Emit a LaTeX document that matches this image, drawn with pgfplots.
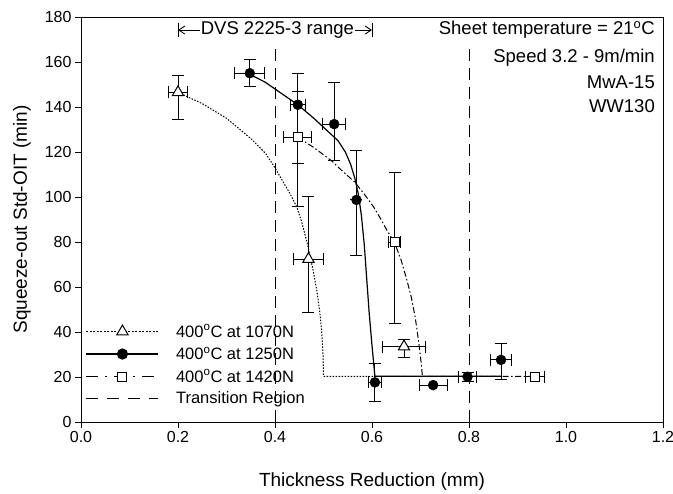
\documentclass[border=0pt]{standalone}
\usepackage{fontspec}
\setmainfont{Liberation Sans}
\usepackage{pgfplots}
\pgfplotsset{compat=1.18}
\usetikzlibrary{arrows.meta}
\begin{document}
\begin{tikzpicture}[font=\fontsize{16}{19}\selectfont]
\useasboundingbox (0,0) rectangle (673pt,494pt);
\begin{axis}[
  at={(81pt,72pt)}, anchor=south west,
  scale only axis, width=582pt, height=405pt,
  xmin=0, xmax=1.2, ymin=0, ymax=180,
  xtick={0,0.2,0.4,0.6,0.8,1.0,1.2}, ytick={0,20,...,180},
  xtick pos=left, ytick pos=left, tick align=outside,
  major tick length=6pt,
  tick style={line width=0.9pt, black},
  axis line style={line width=0.9pt},
  /pgf/number format/assume math mode=true,
  xticklabel style={/pgf/number format/.cd, fixed, fixed zerofill, precision=1},
  xlabel={Thickness Reduction (mm)},
  ylabel={Squeeze-out Std-OIT (min)},
  xlabel style={font=\fontsize{19}{22}\selectfont, at={(axis description cs:0.5,-0.148)}, anchor=center},
  ylabel style={font=\fontsize{19}{22}\selectfont, at={(axis description cs:-0.1014,0.5)}, anchor=center},
  legend style={at={(axis description cs:0.008,0.246)}, anchor=north west, draw=none, fill=none,
    font=\fontsize{16.5}{19}\selectfont, row sep=4.5pt, inner sep=0pt},
  legend cell align=left,
  legend image code/.code={\draw[mark repeat=2,mark phase=2,#1] plot coordinates {(0pt,0pt) (36pt,0pt) (72pt,0pt)};\path (87pt,0pt);},
  error bars/error bar style={line width=1pt, black, solid},
  error bars/error mark options={rotate=90, black, mark size=6pt, line width=1pt, solid},
]
% legend entries
\addlegendimage{black, line width=1pt, dash pattern=on 2pt off 1.5pt, mark=triangle*, mark size=6.5pt, mark options={fill=white, solid}}
\addlegendentry{400\textsuperscript{o}C at 1070N}
\addlegendimage{black, line width=1.2pt, mark=*, mark size=5pt, mark options={fill=black}}
\addlegendentry{400\textsuperscript{o}C at 1250N}
\addlegendimage{black, line width=1pt, dash pattern=on 12pt off 7pt on 2pt off 7pt, mark=square*, mark size=4.5pt, mark options={fill=white, solid}}
\addlegendentry{400\textsuperscript{o}C at 1420N}
\addlegendimage{black, line width=1pt, dash pattern=on 12pt off 9pt}
\addlegendentry{Transition Region}

% transition region lines
\addplot[black, line width=1pt, dash pattern=on 12pt off 7pt, forget plot] coordinates {(0.4,0) (0.4,166)};
\addplot[black, line width=1pt, dash pattern=on 12pt off 7pt, forget plot] coordinates {(0.8,0) (0.8,166)};

% fitted curves
\addplot[black, line width=1pt, dash pattern=on 1.5pt off 1.5pt, forget plot] coordinates {
 (0.2,146.5) (0.25,141.5) (0.3,135) (0.35,126) (0.38,119.5) (0.4,113) (0.42,105.5)
 (0.431,101.5) (0.445,95.5) (0.455,89) (0.468,78) (0.478,68) (0.486,58.7) (0.492,49.5)
 (0.496,41) (0.499,30) (0.5,20.3) (0.67,20.3)};
\addplot[black, line width=1.2pt, forget plot] coordinates {
 (0.348,154.5) (0.38,151) (0.41,146.5) (0.447,141) (0.48,135) (0.505,130) (0.53,125)
 (0.545,120) (0.556,114.5) (0.565,108) (0.572,101) (0.578,92) (0.584,79) (0.589,64)
 (0.594,49) (0.6,34) (0.606,20.3) (0.868,20.3)};
\addplot[black, line width=1pt, dash pattern=on 6pt off 2.5pt on 1.5pt off 2.5pt, forget plot] coordinates {
 (0.447,126.5) (0.48,122) (0.517,116) (0.534,112.5) (0.565,106.5) (0.585,101) (0.603,95.7)
 (0.616,91) (0.63,85.5) (0.647,79.5) (0.66,72) (0.672,63) (0.681,55.5) (0.689,46.7)
 (0.696,36) (0.701,27) (0.704,20.3) (0.936,20.3)};

% data with error bars
\addplot[black, only marks, mark=triangle*, mark size=6.5pt, mark options={fill=white, draw=black, line width=1pt}, forget plot,
  error bars/.cd, x dir=both, x explicit, y dir=both, y explicit] coordinates {
 (0.2,146.5) += (0.019,7.5) -= (0.019,12)
 (0.469,72.4) += (0.031,28) -= (0.031,23.7)
 (0.666,33.5) += (0.044,3) -= (0.044,5)
};
\addplot[black, only marks, mark=*, mark size=5pt, mark options={fill=black}, forget plot,
  error bars/.cd, x dir=both, x explicit, y dir=both, y explicit] coordinates {
 (0.348,155) += (0.031,6) -= (0.031,6)
 (0.447,141) += (0.015,14) -= (0.015,26)
 (0.522,132.4) += (0.024,18.6) -= (0.024,16.4)
 (0.568,98.7) += (0,21.9) -= (0,24.5)
 (0.606,17.6) += (0.014,8.2) -= (0.014,8.6)
 (0.726,16.4) += (0.029,0) -= (0.029,0)
 (0.797,20.1) += (0.018,2) -= (0.018,2)
 (0.866,27.6) += (0.022,7.1) -= (0.022,8.6)
};
\addplot[black, only marks, mark=square*, mark size=4.5pt, mark options={fill=white, draw=black, line width=1pt}, forget plot,
  error bars/.cd, x dir=both, x explicit, y dir=both, y explicit] coordinates {
 (0.447,126.5) += (0.029,20.3) -= (0.029,30.8)
 (0.647,79.9) += (0.012,31.1) -= (0.012,36.3)
 (0.936,20.1) += (0.019,0) -= (0.019,0)
};

% annotations
\node[font=\fontsize{18.5}{22}\selectfont, inner sep=1pt] (dvs) at (axis cs:0.405,174.2) {DVS 2225-3 range};
\draw[line width=0.9pt, -{Straight Barb[length=6pt,width=8pt]}] (dvs.west) -- (axis cs:0.2,174.2);
\draw[line width=0.9pt, -{Straight Barb[length=6pt,width=8pt]}] (dvs.east) -- (axis cs:0.6,174.2);
\draw[line width=0.9pt] (axis cs:0.2,171) -- (axis cs:0.2,177.4);
\draw[line width=0.9pt] (axis cs:0.6,171) -- (axis cs:0.6,177.4);
\node[anchor=east, inner sep=0pt, font=\fontsize{18.5}{22}\selectfont] at (axis cs:1.1835,174.2) {Sheet temperature = 21\textsuperscript{o}C};
\node[anchor=east, inner sep=0pt, font=\fontsize{18.5}{22}\selectfont] at (axis cs:1.1835,161.8) {Speed 3.2 - 9m/min};
\node[anchor=east, inner sep=0pt, font=\fontsize{18.5}{22}\selectfont] at (axis cs:1.1835,151.1) {MwA-15};
\node[anchor=east, inner sep=0pt, font=\fontsize{18.5}{22}\selectfont] at (axis cs:1.1835,140.4) {WW130};
\end{axis}
\end{tikzpicture}
\end{document}
